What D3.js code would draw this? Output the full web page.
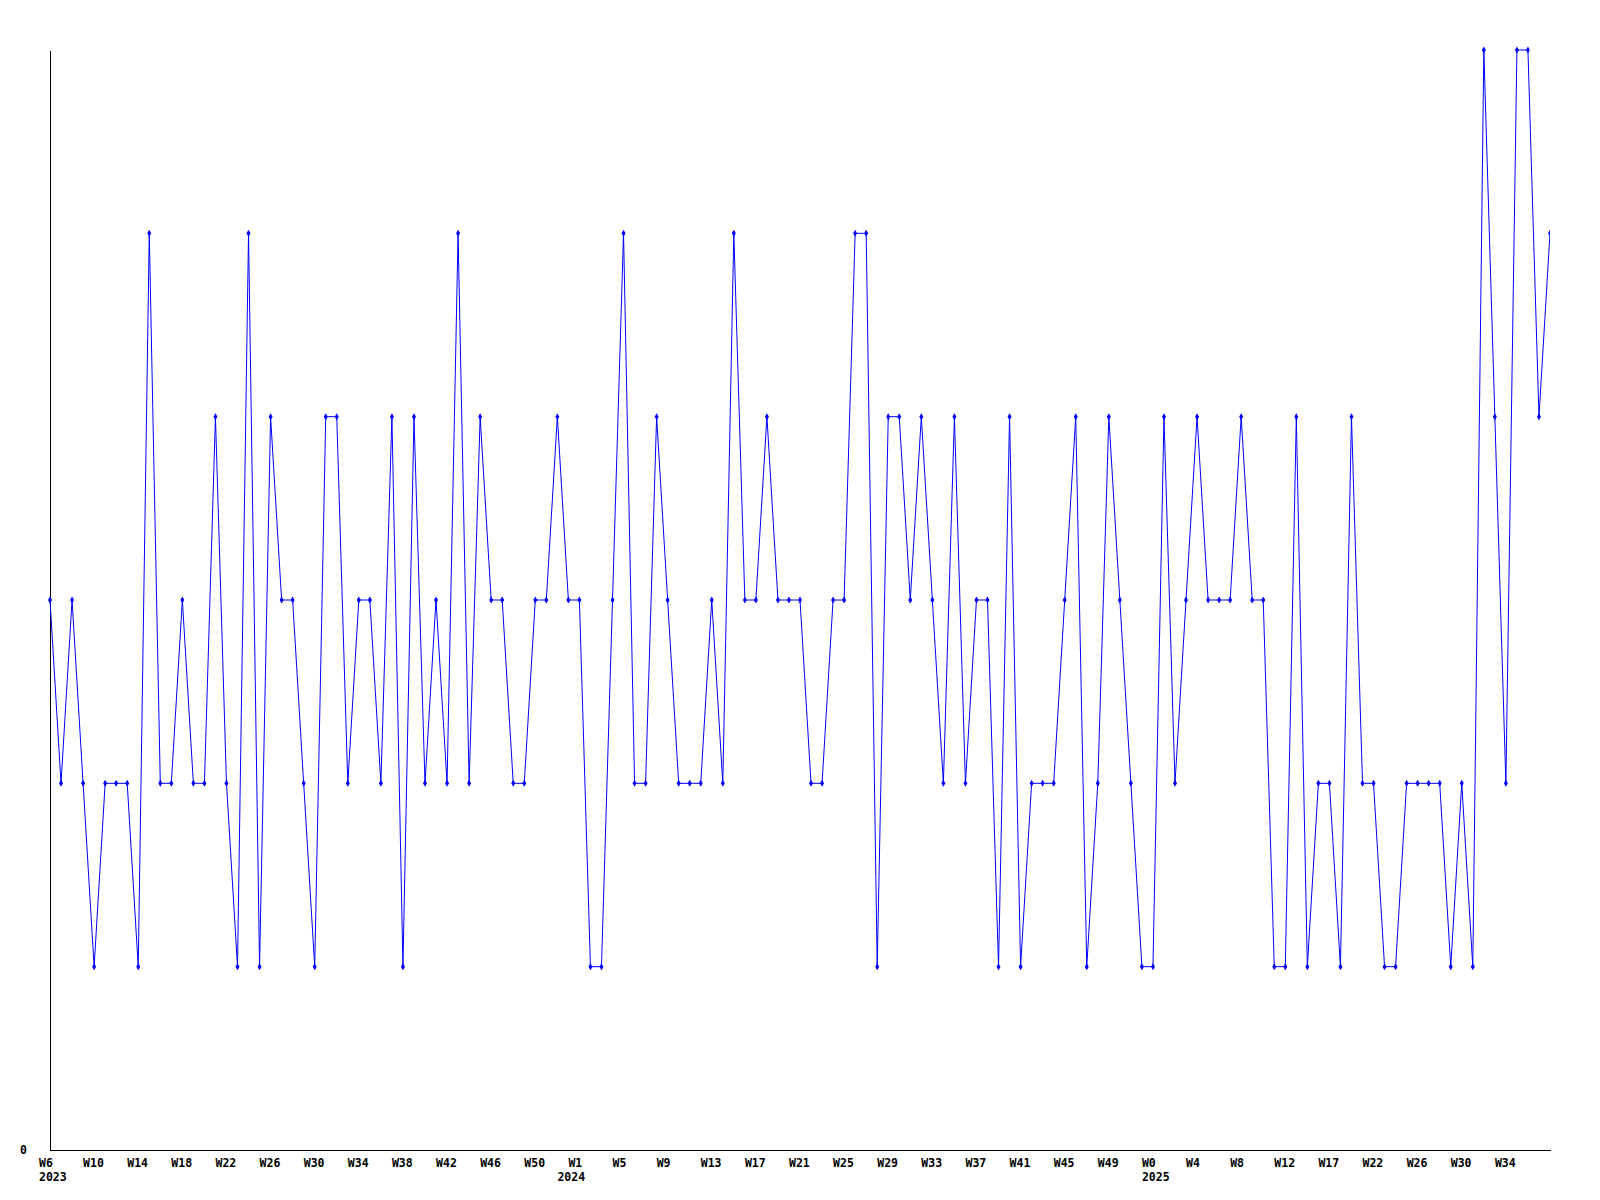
<!DOCTYPE html>
<html>
<head>
<meta charset="utf-8">
<script src="https://cdnjs.cloudflare.com/ajax/libs/d3/7.8.5/d3.min.js"></script>
<style>
  body { margin: 0; background: #fff; }
</style>
</head>
<body>
<script>
'use strict';

// weekly values, one per point (index 0 = W6 2023)
const values = [
  3, 2, 3, 2, 1, 2, 2, 2, 1, 5, 2, 2, 3, 2, 2, 4, 2, 1, 5, 1, 4, 3, 3,
  2, 1, 4, 4, 2, 3, 3, 2, 4, 1, 4, 2, 3, 2, 5, 2, 4, 3, 3, 2, 2, 3, 3,
  4, 3, 3, 1, 1, 3, 5, 2, 2, 4, 3, 2, 2, 2, 3, 2, 5, 3, 3, 4, 3, 3, 3,
  2, 2, 3, 3, 5, 5, 1, 4, 4, 3, 4, 3, 2, 4, 2, 3, 3, 1, 4, 1, 2, 2,
  2, 3, 4, 1, 2, 4, 3, 2, 1, 1, 4, 2, 3, 4, 3, 3, 3, 4, 3, 3, 1, 1, 4,
  1, 2, 2, 1, 4, 2, 2, 1, 1, 2, 2, 2, 2, 1, 2, 1, 6, 4, 2, 6, 6, 4, 5
];

// x tick labels, one every 4 points
const weekLabels = [
  'W6', 'W10', 'W14', 'W18', 'W22', 'W26', 'W30', 'W34', 'W38', 'W42', 'W46', 'W50',
  'W1', 'W5', 'W9', 'W13', 'W17', 'W21', 'W25', 'W29', 'W33', 'W37', 'W41', 'W45', 'W49',
  'W0', 'W4', 'W8', 'W12', 'W17', 'W22', 'W26', 'W30', 'W34'
];
const tickStep = 4;

// year labels and the point where each year starts
const years = ['2023', '2024', '2025'];
const yearStart = [0, 47, 100];

(function() {

  let svg = "";

  window.onload = function() {
    svg = d3.select('body')
      .append('svg')
      .attr('width', 1600)
      .attr('height', 1200)
      .style('font', 'bold 11.5px "DejaVu Sans Mono", monospace');

    let scales = drawAxes();
    plotData(scales);
  }

  // axes lines and labels
  function drawAxes() {
    let xScale = d3.scaleLinear()
      .domain([0, values.length - 1])
      .range([50, 1550]);

    let yScale = d3.scaleLinear()
      .domain([0, 6])
      .range([1150, 50]);

    // y axis: only the 0 label, no ticks
    let yAxis = d3.axisLeft(yScale)
      .tickValues([0])
      .tickSize(0)
      .tickPadding(23)
      .tickFormat(d3.format('d'));
    let yg = svg.append('g')
      .attr('transform', 'translate(50, 0)')
      .call(yAxis);
    yg.select('.domain').attr('stroke', '#000').attr('shape-rendering', 'crispEdges');
    yg.selectAll('text')
      .attr('fill', '#000')
      .attr('text-anchor', 'start')
      .attr('x', -30)
      .style('font', 'bold 11.5px "DejaVu Sans Mono", monospace');

    // x axis line
    let xg = svg.append('g')
      .attr('transform', 'translate(0, 1150)')
      .call(d3.axisBottom(xScale).tickValues([]).tickSize(0));
    xg.select('.domain').attr('stroke', '#000').attr('shape-rendering', 'crispEdges');

    // week labels
    svg.selectAll('.week')
      .data(weekLabels)
      .enter()
      .append('text')
      .attr('class', 'week')
      .attr('x', (d, i) => xScale(i * tickStep) - 11)
      .attr('y', 1167)
      .attr('fill', '#000')
      .text((d) => d);

    // year labels
    svg.selectAll('.year')
      .data(years)
      .enter()
      .append('text')
      .attr('class', 'year')
      .attr('x', (d, i) => xScale(yearStart[i]) - 11)
      .attr('y', 1181)
      .attr('fill', '#000')
      .text((d) => d);

    return { x: xScale, y: yScale };
  }

  // line and point markers
  function plotData(s) {
    svg.append('clipPath')
      .attr('id', 'plot')
      .append('rect')
      .attr('x', 40)
      .attr('y', 40)
      .attr('width', 1510)
      .attr('height', 1120);

    let g = svg.append('g').attr('clip-path', 'url(#plot)');

    let line = d3.line()
      .x((d, i) => s.x(i))
      .y((d) => s.y(d));

    g.append('path')
      .datum(values)
      .attr('d', line)
      .attr('fill', 'none')
      .attr('stroke', '#0000ff')
      .attr('stroke-width', 1);

    g.selectAll('.pt')
      .data(values)
      .enter()
      .append('path')
      .attr('class', 'pt')
      .attr('d', d3.symbol(d3.symbolDiamond, 14))
      .attr('transform', (d, i) => 'translate(' + s.x(i) + ',' + s.y(d) + ')')
      .attr('fill', '#0000ff');
  }

})();
</script>
</body>
</html>
